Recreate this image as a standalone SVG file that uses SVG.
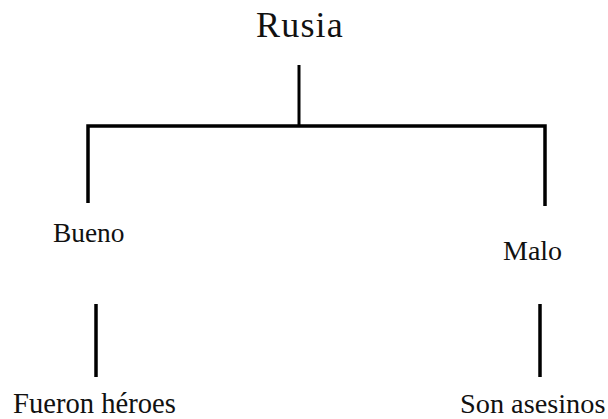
<svg xmlns="http://www.w3.org/2000/svg" width="608" height="419" viewBox="0 0 608 419">
<style>
text{font-family:"Liberation Serif","Times New Roman",serif;fill:#111;}
.c{stroke:#000;fill:none;stroke-linecap:butt;stroke-linejoin:miter;}
</style>
<rect width="608" height="419" fill="#fff"/>
<g id="connectors">
<line class="c" x1="299" y1="65" x2="299" y2="126" stroke-width="3"/>
<polyline class="c" points="88,203 88,126 545,126 545,206" stroke-width="3.5"/>
<line class="c" x1="96" y1="304" x2="96" y2="377" stroke-width="3.5"/>
<line class="c" x1="540" y1="304" x2="540" y2="377" stroke-width="3.5"/>
</g>
<g id="node-rusia"><text x="256" y="37" font-size="36" letter-spacing="1.2">Rusia</text></g>
<g id="node-bueno"><text x="53" y="242" font-size="27.4">Bueno</text></g>
<g id="node-malo"><text x="503" y="260" font-size="28">Malo</text></g>
<g id="node-fueron"><text x="13" y="413" font-size="28.6">Fueron héroes</text></g>
<g id="node-son"><text x="460" y="413" font-size="28.3">Son asesinos</text></g>
</svg>
